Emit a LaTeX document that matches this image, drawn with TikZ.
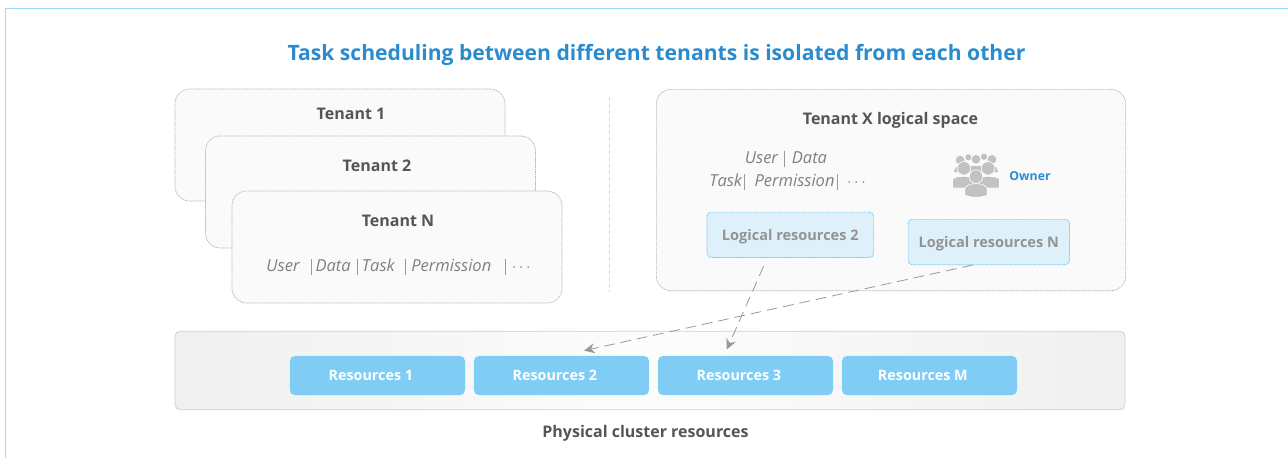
\documentclass[tikz,border=0pt]{standalone}
\usepackage{fontspec}
\usepackage{tikz}
\usetikzlibrary{arrows.meta}
\setmainfont{Open Sans}
\definecolor{titleblue}{HTML}{2A8CCF}
\definecolor{framblue}{HTML}{9ADCFB}
\definecolor{labelgray}{HTML}{555555}
\definecolor{itemgray}{HTML}{808080}
\definecolor{edgegray}{HTML}{B5B5B5}
\definecolor{resblue}{HTML}{7FCDF5}
\definecolor{logicalblue}{HTML}{DEF1FB}
\definecolor{logicaledge}{HTML}{6CC6F5}
\definecolor{peoplegray}{HTML}{C2C2C2}
\newcommand{\vbar}{\textcolor{itemgray!80}{\rule[-2.5pt]{.4pt}{12pt}}}

\begin{document}
\begin{tikzpicture}[x=0.75pt,y=-0.75pt,node distance=138pt,
	tenant box/.style={rectangle,rounded corners=11pt,draw=edgegray,fill=black!2,
		line width=.5pt,dash pattern=on 1.2pt off .6pt,minimum width=247.5pt,minimum height=84pt},
	logical box/.style={rectangle,rounded corners=3pt,draw=logicaledge,fill=logicalblue,
		line width=.5pt,dash pattern=on 1.2pt off .6pt,minimum height=34pt,text depth=0pt,
		font=\fontsize{10.9}{12}\selectfont\bfseries,text=itemgray!85},
	res box/.style={rectangle,rounded corners=4pt,fill=resblue,minimum width=131.5pt,minimum height=29.5pt,
		font=\fontsize{10.75}{12}\selectfont\bfseries,text=white},
	head label/.style={font=\fontsize{12}{14}\selectfont\bfseries,text=labelgray},
	item label/.style={font=\fontsize{12.4}{14}\selectfont\itshape,text=itemgray},
	flow line/.style={draw=black!40,line width=.6pt,dash pattern=on 8pt off 4.5pt,
		-{Stealth[length=8pt,width=7.5pt]}},
	person/.style={fill=peoplegray,draw=white,line width=.5pt}]
	
	\useasboundingbox (0,0) rectangle (1288,458);
	\draw[framblue,line width=.6pt] (5,458) -- (5,8) -- (1288,8);
	
	\node[font=\fontsize{15.85}{18}\selectfont\bfseries,text=titleblue] (title) at (656.5,54.5)
		{Task scheduling between different tenants is isolated from each other};
	
	% tenant stack
	\node[tenant box] (T1) at (340,145) {};
	\node[head label] (T1L) at (351,113.5) {Tenant 1};
	\node[tenant box] (T2) at (370.5,192) {};
	\node[head label] (T2L) at (377,165.5) {Tenant 2};
	\node[tenant box] (TN) at (397,247) {};
	\node[head label] (TNL) at (398,220.5) {Tenant N};
	\node[item label] (TNI) at (398.5,266.5)
		{User\hspace{8.8pt}\vbar\hspace{2.8pt}Data\hspace{4.5pt}\vbar\hspace{3.5pt}Task\hspace{7.5pt}\vbar\hspace{4.5pt}Permission\hspace{10.5pt}\vbar\hspace{4.5pt}$\cdots$};
	
	\draw[black!15,line width=.7pt,dash pattern=on 3pt off 2pt] (609,97) -- (609,292);
	
	% tenant x
	\node[tenant box,minimum width=352pt,minimum height=151pt] (TX) at (891,190) {};
	\node[head label] (TXL) at (890.5,120) {Tenant X logical space};
	\node[item label] (TXI1) at (786,159) {User\hspace{4.5pt}\vbar\hspace{5.5pt}Data};
	\node[item label] (TXI2) at (787.5,181.5) {Task\hspace{1.5pt}\vbar\hspace{7.5pt}Permission\hspace{1.5pt}\vbar\hspace{7.5pt}$\cdots$};
	\node[logical box,minimum width=125pt] (L2) at (790.3,234.8) {Logical resources 2};
	\node[logical box,minimum width=121pt] (LN) at (988.8,242) {Logical resources N};
	
	% owner icon
	\foreach \px/\py/\pr in {960/160/4.3,968.3/157.3/3,976/159.3/4.3,984/156.7/3.2,992/159.3/4.3}
		\fill[peoplegray] (\px,\py) circle[radius=\pr];
	\fill[peoplegray] (954,172) .. controls (955,163) and (966,163) .. (970,166) -- (982,166) .. controls (986,163) and (997,163) .. (998,172) -- cycle;
	\foreach \px in {964,988}{
		\path[person] (\px-11.5,188) -- (\px-11.5,180) .. controls (\px-11.5,175) and (\px+11.5,175) .. (\px+11.5,180) -- (\px+11.5,188) -- cycle;
		\path[person] (\px,168.3) circle[radius=6.8];
	}
	\path[person] (964.5,195) -- (964.5,190) .. controls (964.5,181.5) and (987.5,181.5) .. (987.5,190) -- (987.5,195) .. controls (981,198) and (971,198) .. (964.5,195) -- cycle;
	\path[person] (976,176.7) circle[radius=6.8];
	\node[font=\fontsize{9.2}{11}\selectfont\bfseries,text=titleblue] (owner) at (1030,176.5) {Owner};
	
	% physical resources
	\node[rectangle,rounded corners=4pt,draw=black!18,line width=.6pt,left color=black!6,right color=black!6,middle color=black!1,
		minimum width=712.5pt,minimum height=59pt] (PC) at (650,370.5) {};
	\node[res box] (R1) at (377.5,375.5) {Resources 1\kern10pt};
	\node[res box] (R2) [right of=R1] {Resources 2\kern10pt};
	\node[res box] (R3) [right of=R2] {Resources 3\kern10pt};
	\node[res box] (RM) [right of=R3] {Resources M\kern10pt};
	\node[head label] (PCL) at (645.5,433) {Physical cluster resources};
	
	\draw[flow line,shorten <=6.9pt,shorten >=4.9pt] (L2.225) -- (R3.137.3);
	\draw[flow line,shorten >=17.3pt] (LN.235.2) -- (R2.north);
	
\end{tikzpicture}
\end{document}
